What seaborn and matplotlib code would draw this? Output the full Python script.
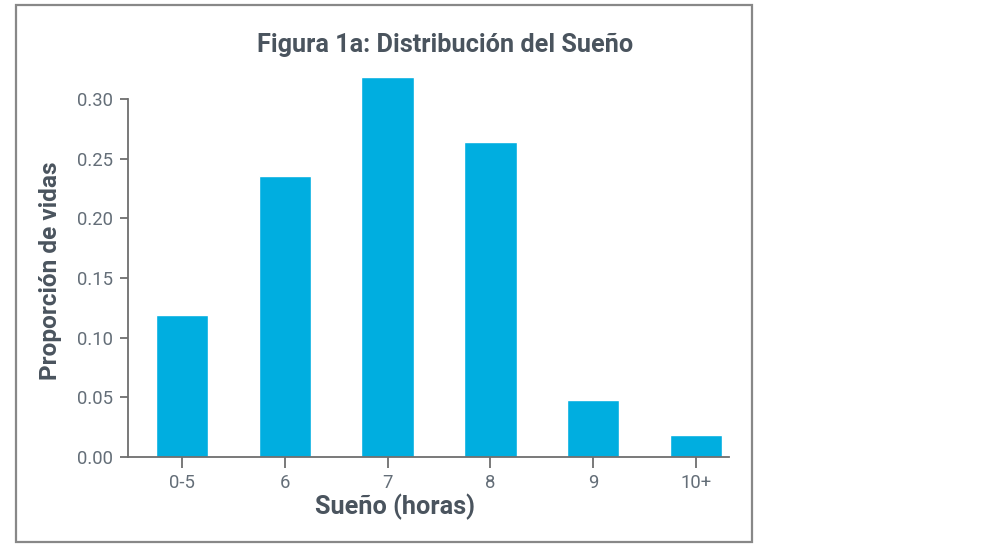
import matplotlib
matplotlib.use("Agg")
import matplotlib.pyplot as plt
import matplotlib.patches as patches
import seaborn as sns
import pandas as pd

categories = ["0-5", "6", "7", "8", "9", "10+"]
proportions = [0.119, 0.2355, 0.3185, 0.264, 0.0478, 0.0184]
yticks = [0.00, 0.05, 0.10, 0.15, 0.20, 0.25, 0.30]
title = "Figura 1a: Distribución del Sueño"
xlabel = "Sueño (horas)"
ylabel = "Proporción de vidas"

sns.set_theme(style="white")
plt.rcParams['font.family'] = ['Roboto', 'DejaVu Sans']

BAR = "#00AEE0"
DARK = "#4a545e"
TICK = "#646e78"
SPINE = "#6e6e6e"

df = pd.DataFrame({"sleep": categories, "prop": proportions})

fig = plt.figure(figsize=(10, 5.46), dpi=100)
fig.patch.set_facecolor("white")
ax = fig.add_axes([0.128, 0.163, 0.601, 0.6996])

sns.barplot(data=df, x="sleep", y="prop", order=categories, color=BAR,
            saturation=1, width=0.51, ax=ax)

ax.set_xlim(-0.525, 5.32)
ax.set_ylim(0, 0.32)
ax.set_yticks(yticks)
ax.set_yticklabels([f"{v:.2f}" for v in yticks])

for s in ["top", "right"]:
    ax.spines[s].set_visible(False)
for s in ["left", "bottom"]:
    ax.spines[s].set_color(SPINE)
    ax.spines[s].set_linewidth(1.3)
ax.spines["left"].set_bounds(0, 0.30)

ax.tick_params(axis="y", direction="out", length=6, width=1.3, color=SPINE,
               labelsize=13.3, labelcolor=TICK, pad=5, left=True)
ax.tick_params(axis="x", direction="out", length=8, width=1.3, color=SPINE,
               labelsize=13.3, labelcolor=TICK, pad=4, bottom=True)

ax.set_xlabel(xlabel, fontsize=18.2, fontweight="bold", color=DARK)
ax.set_ylabel(ylabel, fontsize=17.6, fontweight="bold", color=DARK)
ax.xaxis.set_label_coords(0.445, -0.097)
ax.yaxis.set_label_coords(-0.11, 0.487)
ax.xaxis.label.set_va("top")

fig.text(0.445, 1 - 52 / 546, title, ha="center", va="baseline",
         fontsize=18.2, fontweight="bold", color=DARK)

rect = patches.Rectangle((16 / 1000, 1 - 542 / 546), 736 / 1000, 537 / 546,
                         transform=fig.transFigure, fill=False,
                         edgecolor="#888888", linewidth=1.6, zorder=10)
fig.patches.append(rect)

fig.savefig("out.png", dpi=100, facecolor="white")
